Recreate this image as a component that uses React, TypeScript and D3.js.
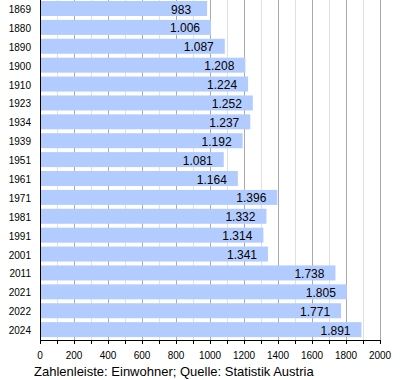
import React from "react";
import * as d3 from "d3";

const years = ["1869","1880","1890","1900","1910","1923","1934","1939","1951","1961","1971","1981","1991","2001","2011","2021","2022","2024"];
const population = [983,1006,1087,1208,1224,1252,1237,1192,1081,1164,1396,1332,1314,1341,1738,1805,1771,1891];
const majorTicks = [0,200,400,600,800,1000,1200,1400,1600,1800,2000];
const minorTicks = [100,300,500,700,900,1100,1300,1500,1700,1900];
const caption = "Zahlenleiste: Einwohner; Quelle: Statistik Austria";

const fmt = (v: number) => {
  const s = String(v);
  return s.length > 3 ? s.slice(0, s.length - 3) + "." + s.slice(-3) : s;
};

export default function App() {
  const W = 400, H = 380;
  const left = 40, right = 380, top = 0, bottom = 340;
  const x = d3.scaleLinear().domain([0, 2000]).range([left, right]);
  const y = d3.scaleBand<string>().domain(years).range([top, bottom]).paddingInner(0).paddingOuter(0);
  const step = y.step();
  const font = "Liberation Sans, Arial, sans-serif";
  return (
    <svg width={W} height={H} style={{ position: "absolute", left: 0, top: 0, background: "#fff" }} fontFamily={font}>
      <rect x={0} y={0} width={W} height={H} fill="#fff" />
      {minorTicks.map((t) => (
        <line key={"mi" + t} x1={x(t)} x2={x(t)} y1={top} y2={bottom} stroke="#e0e0e0" strokeWidth={1} shapeRendering="crispEdges" />
      ))}
      {majorTicks.map((t) => (
        <line key={"ma" + t} x1={x(t)} x2={x(t)} y1={top} y2={bottom} stroke="#aaaaaa" strokeWidth={1} shapeRendering="crispEdges" />
      ))}
      {years.map((yr, i) => (
        <rect key={"b" + yr} x={x(0)} y={(y(yr) as number) + 1} width={x(population[i]) - x(0)} height={15} fill="#b3ccff" />
      ))}
      {years.map((yr, i) => (
        <text key={"v" + yr} x={x(population[i]) - 26} y={(y(yr) as number) + 13.5} textAnchor="middle" fontSize={12} fill="#000">
          {fmt(population[i])}
        </text>
      ))}
      {years.map((yr) => (
        <text key={"y" + yr} x={31} y={(y(yr) as number) + step / 2 + 3.5} textAnchor="end" fontSize={10} fill="#000">
          {yr}
        </text>
      ))}
      <line x1={left} x2={left} y1={top} y2={bottom} stroke="#000" strokeWidth={1} shapeRendering="crispEdges" />
      <line x1={left} x2={right} y1={bottom} y2={bottom} stroke="#000" strokeWidth={1} shapeRendering="crispEdges" />
      {[...majorTicks, ...minorTicks].map((t) => (
        <line key={"tk" + t} x1={x(t)} x2={x(t)} y1={bottom} y2={bottom + 4} stroke="#000" strokeWidth={1} shapeRendering="crispEdges" />
      ))}
      {majorTicks.map((t) => (
        <text key={"tl" + t} x={x(t)} y={359} textAnchor="middle" fontSize={10} fill="#000">
          {t}
        </text>
      ))}
      <text x={34} y={376} fontSize={13} fill="#000">{caption}</text>
    </svg>
  );
}
